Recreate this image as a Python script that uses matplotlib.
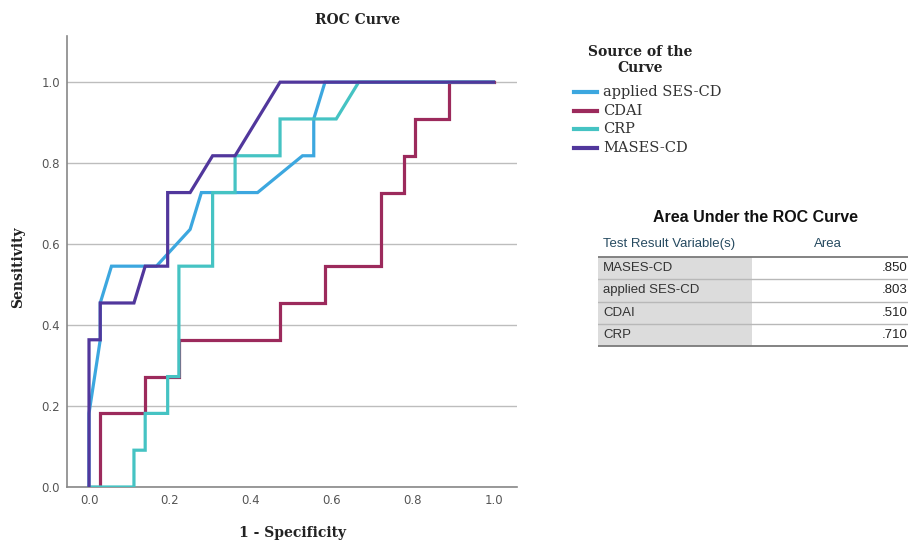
import matplotlib
matplotlib.use("Agg")
import matplotlib.pyplot as plt
from matplotlib.lines import Line2D
from matplotlib.patches import Rectangle

# ROC points as counts: false positives out of 36 negatives, true positives out of 11 positives
n_neg = 36
n_pos = 11

ses_fp = [0, 0, 1, 1, 2, 6, 9, 10, 15, 19, 20, 20, 21, 36]
ses_tp = [0, 2, 4, 5, 6, 6, 7, 8, 8, 9, 9, 10, 11, 11]

cdai_fp = [0, 1, 1, 5, 5, 8, 8, 17, 17, 21, 21, 26, 26, 28, 28, 29, 29, 32, 32, 36]
cdai_tp = [0, 0, 2, 2, 3, 3, 4, 4, 5, 5, 6, 6, 8, 8, 9, 9, 10, 10, 11, 11]

crp_fp = [0, 4, 4, 5, 5, 7, 7, 8, 8, 11, 11, 13, 13, 17, 17, 22, 24, 36]
crp_tp = [0, 0, 1, 1, 2, 2, 3, 3, 6, 6, 8, 8, 9, 9, 10, 10, 11, 11]

mases_fp = [0, 0, 1, 1, 4, 5, 7, 7, 9, 11, 13, 17, 36]
mases_tp = [0, 4, 4, 5, 5, 6, 6, 8, 8, 9, 9, 11, 11]

curve_names = ["applied SES-CD", "CDAI", "CRP", "MASES-CD"]
curve_colors = ["#3ca7df", "#9c2a5c", "#45c3c3", "#51379c"]

# area table
auc_names = ["MASES-CD", "applied SES-CD", "CDAI", "CRP"]
auc_values = [".850", ".803", ".510", ".710"]

W, H = 908, 541
fig = plt.figure(figsize=(W / 100, H / 100), dpi=100)
fig.patch.set_facecolor("white")

# main plot
ax = fig.add_axes([67 / W, (H - 487) / H, 450 / W, 451 / H])
curves = [(ses_fp, ses_tp), (cdai_fp, cdai_tp), (crp_fp, crp_tp), (mases_fp, mases_tp)]
for (fp, tp), c in zip(curves, curve_colors):
    ax.plot([f / n_neg for f in fp], [t / n_pos for t in tp], color=c, lw=2.3,
            solid_joinstyle="miter", zorder=3)

ax.set_xlim(-0.0544, 1.058)
ax.set_ylim(0, 1.114)
ax.set_xticks([0, 0.2, 0.4, 0.6, 0.8, 1.0])
ax.set_yticks([0, 0.2, 0.4, 0.6, 0.8, 1.0])
ax.set_xticklabels(["0.0", "0.2", "0.4", "0.6", "0.8", "1.0"])
ax.set_yticklabels(["0.0", "0.2", "0.4", "0.6", "0.8", "1.0"])
ax.tick_params(length=0, labelsize=8.5, labelcolor="#555555", pad=5)
for lab in ax.get_xticklabels() + ax.get_yticklabels():
    lab.set_fontfamily("DejaVu Sans")
ax.yaxis.grid(True, color="#bdbdbd", lw=1)
ax.set_axisbelow(True)
for s in ["top", "right"]:
    ax.spines[s].set_visible(False)
for s in ["left", "bottom"]:
    ax.spines[s].set_color("#888888")
    ax.spines[s].set_linewidth(1.2)

serif = "DejaVu Serif"
fig.text(358 / W, 1 - 20 / H, "ROC Curve", ha="center", va="center",
         fontsize=10, fontweight="bold", family=serif, color="#222222")
fig.text(293 / W, 1 - 533 / H, "1 - Specificity", ha="center", va="center",
         fontsize=10, fontweight="bold", family=serif, color="#222222")
fig.text(18 / W, 1 - 267 / H, "Sensitivity", ha="center", va="center", rotation=90,
         fontsize=10, fontweight="bold", family=serif, color="#222222")

# legend
fig.text(640 / W, 1 - 60 / H, "Source of the\nCurve", ha="center", va="center",
         fontsize=10, fontweight="bold", family=serif, color="#222222", linespacing=1.15)
leg_y = [92, 111, 129, 148]
for name, c, y in zip(curve_names, curve_colors, leg_y):
    fig.add_artist(Line2D([574 / W, 597 / W], [1 - y / H, 1 - y / H], color=c, lw=3,
                          transform=fig.transFigure))
    fig.text(603 / W, 1 - y / H, name, ha="left", va="center", fontsize=10.5,
             family=serif, color="#333333")

# area table, drawn in pixel units
tab = fig.add_axes([598 / W, (H - 350) / H, 312 / W, 150 / H])
tab.set_xlim(598, 910)
tab.set_ylim(350, 200)
tab.axis("off")
sans = "Liberation Sans"
tab.text(756, 217, "Area Under the ROC Curve", ha="center", va="center",
         fontsize=11.5, fontweight="bold", family=sans, color="#111111")
tab.text(603, 244, "Test Result Variable(s)", ha="left", va="center",
         fontsize=9.5, family=sans, color="#264a60")
tab.text(828, 244, "Area", ha="center", va="center", fontsize=9.5, family=sans,
         color="#264a60")
row_top = 257
row_h = 22.3
for i, (nm, v) in enumerate(zip(auc_names, auc_values)):
    y0 = row_top + i * row_h
    tab.add_patch(Rectangle((598, y0), 154, row_h, facecolor="#dcdcdc", edgecolor="none"))
    tab.text(603, y0 + row_h / 2, nm, ha="left", va="center", fontsize=9.5,
             family=sans, color="#333333")
    tab.text(908, y0 + row_h / 2, v, ha="right", va="center", fontsize=9.5,
             family=sans, color="#222222")
    if i > 0:
        tab.plot([598, 910], [y0, y0], color="#b8b8b8", lw=1)
tab.plot([598, 910], [row_top, row_top], color="#7a7a7a", lw=1.3)
tab.plot([598, 910], [row_top + 4 * row_h, row_top + 4 * row_h], color="#7a7a7a", lw=1.3)

fig.savefig("out.png", dpi=100)
